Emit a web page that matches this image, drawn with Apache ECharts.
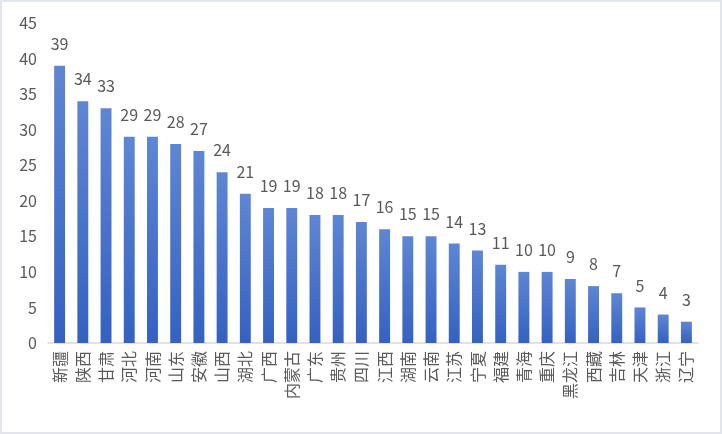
<!DOCTYPE html>
<html>
<head>
<meta charset="utf-8">
<script src="https://cdn.jsdelivr.net/npm/echarts@6/dist/echarts.min.js"></script>
<style>
    html, body { margin: 0; padding: 0; background: #fff; }
    #chart {
        width: 722px;
        height: 434px;
        box-sizing: border-box;
        border: 2px solid #e2e5eb;
    }
</style>
</head>
<body>
<div id="chart"></div>
<script>
// 省份
const provinces = ['新疆', '陕西', '甘肃', '河北', '河南', '山东', '安徽', '山西', '湖北', '广西',
    '内蒙古', '广东', '贵州', '四川', '江西', '湖南', '云南', '江苏', '宁夏', '福建',
    '青海', '重庆', '黑龙江', '西藏', '吉林', '天津', '浙江', '辽宁'];
// 数量
const counts = [39, 34, 33, 29, 29, 28, 27, 24, 21, 19,
    19, 18, 18, 17, 16, 15, 15, 14, 13, 11,
    10, 10, 9, 8, 7, 5, 4, 3];
// y轴刻度
const yMin = 0;
const yMax = 45;
const yStep = 5;

const fontFamily = '"Noto Sans CJK SC", "Noto Sans", sans-serif';
const chart = echarts.init(document.getElementById('chart'));

chart.setOption({
    animation: false,
    grid: {
        left: 46,
        right: 22,
        top: 21,
        bottom: 89,
        containLabel: false
    },
    xAxis: {
        type: 'category',
        data: provinces,
        axisLine: { show: true, lineStyle: { color: '#d9d9d9', width: 1.5 } },
        axisTick: { show: false },
        axisLabel: {
            rotate: 90,
            interval: 0,
            margin: 8,
            color: '#595959',
            fontSize: 16,
            fontFamily: fontFamily
        }
    },
    yAxis: {
        type: 'value',
        min: yMin,
        max: yMax,
        interval: yStep,
        axisLine: { show: false },
        axisTick: { show: false },
        splitLine: { show: false },
        axisLabel: {
            margin: 11,
            color: '#595959',
            fontSize: 16,
            fontFamily: fontFamily
        }
    },
    series: [{
        type: 'bar',
        data: counts,
        barWidth: '47%',
        itemStyle: {
            color: new echarts.graphic.LinearGradient(0, 0, 0, 1, [
                { offset: 0, color: '#5f86d3' },
                { offset: 1, color: '#3461c2' }
            ])
        },
        label: {
            show: true,
            position: 'top',
            distance: 14,
            color: '#595959',
            fontSize: 16,
            fontFamily: fontFamily
        }
    }]
});
</script>
</body>
</html>
